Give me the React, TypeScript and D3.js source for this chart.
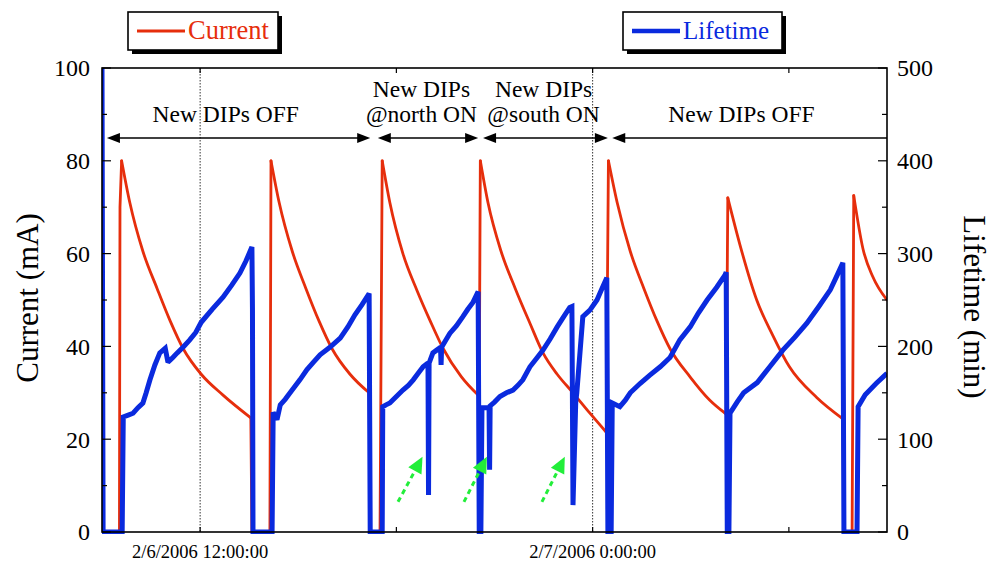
import React from 'react';
import * as d3 from 'd3';

// ---- time domain ----
const START = new Date(2006, 1, 6, 9, 0, 0);
const END = new Date(2006, 1, 7, 9, 0, 0);

// ---- Current (mA): minutes after 2/6/2006 09:00 ----
const currentMinutes = [
  0, 32, 33, 36, 51, 75, 101, 125, 149, 182, 222, 273, 275,
  308, 310, 325, 349, 374, 398, 422, 455, 490, 492,
  510, 514, 528, 552, 578, 602, 626, 659, 690, 692, 694,
  708, 732, 758, 785, 809, 835, 864, 895, 925, 929,
  945, 969, 994, 1018, 1042, 1079, 1115, 1143, 1145, 1148,
  1170, 1201, 1230, 1261, 1311, 1359, 1361,
  1376, 1379, 1396, 1414, 1440,
];
const currentValues = [
  0, 0, 70, 80, 71, 60.5, 52.5, 45.5, 39.5, 34, 29.5, 24.6, 0,
  0, 80, 71, 60.5, 52.5, 45.5, 39.5, 34, 30, 0,
  0, 80, 71, 60, 52, 45.5, 39.5, 33.5, 29.5, 30, 80,
  71, 60.5, 52.5, 45, 38.6, 34, 30, 25.6, 21.5, 80,
  71, 60.5, 52.5, 45.5, 39.5, 33.4, 28.4, 25.6, 25.5, 72,
  62, 50, 42.5, 35.6, 29, 24.4, 0,
  0, 72.5, 61, 55, 50,
];

// ---- Lifetime (min): minutes after 2/6/2006 09:00 ----
const lifetimeMinutes = [
  0, 2, 37, 39, 48, 57, 66, 75, 81, 88, 97, 106, 116, 121, 130, 138, 150, 161, 172, 182,
  202, 222, 238, 253, 264, 275, 276, 277,
  312, 314, 321, 327, 336, 345, 354, 363, 376, 388, 400, 418, 437, 451, 464, 477, 490, 492,
  514, 515, 521, 528, 540, 552, 562, 571, 580, 589, 598, 599, 600, 607, 614, 621, 622, 623, 630, 638,
  650, 662, 671, 680, 690, 692,
  695, 697, 710, 711, 712, 720, 730, 742, 754, 763, 772, 785, 797, 809, 822, 835, 847, 858, 862, 864,
  869, 871, 882, 895, 908, 917, 926, 928,
  934, 936, 950, 960, 969, 987, 1005, 1024, 1042, 1060, 1079, 1094, 1110, 1128, 1143, 1145, 1147,
  1150, 1152, 1165, 1177, 1202, 1225, 1249, 1271, 1293, 1315, 1336, 1348, 1359, 1361,
  1385, 1387, 1400, 1420, 1440,
];
const lifetimeValues = [
  500, 0, 0, 124, 126, 128, 134, 139, 150, 164, 180, 193, 198, 183, 188, 193, 200, 207, 215, 226,
  240, 253, 266, 279, 292, 307, 240, 0,
  0, 129, 121, 137, 143, 150, 157, 164, 175, 183, 191, 199, 209, 221, 234, 245, 257, 0,
  0, 135, 137, 139, 146, 153, 158, 164, 171, 178, 182, 40, 182, 193, 196, 199, 180, 199, 206, 214,
  222, 232, 240, 247, 259, 0,
  0, 134, 134, 67, 136, 140, 146, 150, 153, 158, 164, 178, 187, 196, 208, 221, 232, 242, 243, 29,
  140, 150, 232, 239, 250, 262, 274, 0,
  0, 139, 135, 142, 150, 160, 169, 178, 188, 207, 221, 236, 250, 264, 277, 280, 0,
  0, 128, 140, 150, 161, 178, 196, 210, 225, 243, 261, 276, 290, 0,
  0, 135, 148, 160, 171,
];

const leftTicks = [0, 20, 40, 60, 80, 100];
const rightTicks = [0, 100, 200, 300, 400, 500];
const xLabelTimes = [new Date(2006, 1, 6, 12, 0, 0), new Date(2006, 1, 7, 0, 0, 0)];
const xLabelTexts = ['2/6/2006 12:00:00', '2/7/2006 0:00:00'];

// annotation regions (minutes after start)
const regionStarts = [9, 506, 699, 936];
const regionEnds = [492, 690, 928, 1440];
const regionLeftHead = [true, true, true, true];
const regionRightHead = [true, true, true, false];
const regionLabelCenters = [227, 586, 810, 1173];
const regionLine1 = ['', 'New DIPs', 'New DIPs', ''];
const regionLine2 = ['New DIPs OFF', '@north ON', '@south ON', 'New DIPs OFF'];

// green dashed arrows (minutes, mA)
const greenFromMin = [543, 664, 807];
const greenFromVal = [6.5, 6.5, 6.5];
const greenToMin = [588, 706, 849];
const greenToVal = [16.2, 16.2, 16.2];

const RED = '#e62e0c';
const BLUE = '#0a2ade';
const GREEN = '#22ee3a';
const FONT = '"Liberation Serif", "Times New Roman", Times, serif';

const W = 991;
const H = 563;
const X0 = 102, X1 = 887, Y0 = 532, Y1 = 68;

const toDate = (m: number) => d3.timeMinute.offset(START, m);

type Pt = [Date, number];

export default function App() {
  const x = d3.scaleTime().domain([START, END]).range([X0, X1]);
  const yL = d3.scaleLinear().domain([0, 100]).range([Y0, Y1]);
  const yR = d3.scaleLinear().domain([0, 500]).range([Y0, Y1]);

  const curData = currentMinutes.map((m, i) => [toDate(m), currentValues[i]] as Pt);
  const lifeData = lifetimeMinutes.map((m, i) => [toDate(m), lifetimeValues[i]] as Pt);

  // split current into smooth decay runs and straight injection/dump steps
  const segs: { decay: boolean; pts: Pt[] }[] = [];
  let run: Pt[] = [curData[0]];
  let runDecay: boolean | null = null;
  for (let i = 1; i < curData.length; i++) {
    const decay = currentValues[i] < currentValues[i - 1] && currentMinutes[i] - currentMinutes[i - 1] >= 5;
    if (runDecay !== null && decay !== runDecay) {
      segs.push({ decay: runDecay, pts: run });
      run = [curData[i - 1]];
    }
    run.push(curData[i]);
    runDecay = decay;
  }
  segs.push({ decay: !!runDecay, pts: run });

  const curSmooth = d3.line<Pt>().x(d => x(d[0])).y(d => yL(d[1])).curve(d3.curveMonotoneX);
  const curStraight = d3.line<Pt>().x(d => x(d[0])).y(d => yL(d[1]));
  const lifeLine = d3.line<Pt>().x(d => x(d[0])).y(d => yR(d[1]));

  const minorL = d3.range(0, 101, 10);
  const minorR = d3.range(0, 501, 50);
  const hourTicks = d3.timeHour.every(6)!.range(START, END).filter(t => t > START);

  const arrowY = 138;
  const head = (tipX: number, dir: number) => {
    const L = 13, hw = 5;
    return `M${tipX},${arrowY} L${tipX - dir * L},${arrowY - hw} L${tipX - dir * L},${arrowY + hw} Z`;
  };

  return (
    <svg width={W} height={H} style={{ position: 'absolute', left: 0, top: 0, background: '#fff' }} fontFamily={FONT}>
      <defs>
        <clipPath id="plot">
          <rect x={X0} y={Y1 - 2} width={X1 - X0} height={Y0 - Y1 + 4} />
        </clipPath>
      </defs>
      <rect x={0} y={0} width={W} height={H} fill="#fff" />

      {/* dotted gridlines at labelled times */}
      {xLabelTimes.map((t, i) => (
        <line key={'g' + i} x1={x(t)} x2={x(t)} y1={Y1} y2={Y0} stroke="#333" strokeWidth={1} strokeDasharray="1.5,1.5" />
      ))}

      {/* data */}
      <g clipPath="url(#plot)">
        {segs.map((s, i) => (
          <path key={'cs' + i} d={(s.decay ? curSmooth : curStraight)(s.pts)!} fill="none" stroke={RED}
            strokeWidth={2.8} strokeLinejoin="round" strokeLinecap="round" />
        ))}
        <path d={lifeLine(lifeData)!} fill="none" stroke={BLUE} strokeWidth={5} strokeLinejoin="miter" strokeMiterlimit={2} />
      </g>

      {/* frame */}
      <rect x={X0} y={Y1} width={X1 - X0} height={Y0 - Y1} fill="none" stroke="#000" strokeWidth={1.6} />

      {/* left ticks */}
      {minorL.map(v => (
        <line key={'lt' + v} x1={X0} x2={X0 + (v % 20 === 0 ? 9 : 5)} y1={yL(v)} y2={yL(v)} stroke="#000" strokeWidth={1.2} />
      ))}
      {leftTicks.map(v => (
        <text key={'ll' + v} x={90} y={yL(v)} dy="0.35em" textAnchor="end" fontSize={24}>{v}</text>
      ))}
      {/* right ticks */}
      {minorR.map(v => (
        <line key={'rt' + v} x1={X1} x2={X1 - (v % 100 === 0 ? 9 : 5)} y1={yR(v)} y2={yR(v)} stroke="#000" strokeWidth={1.2} />
      ))}
      {rightTicks.map(v => (
        <text key={'rl' + v} x={897} y={yR(v)} dy="0.35em" textAnchor="start" fontSize={24}>{v}</text>
      ))}
      {/* x ticks */}
      {hourTicks.map((t, i) => (
        <g key={'xt' + i}>
          <line x1={x(t)} x2={x(t)} y1={Y0} y2={Y0 - 5} stroke="#000" strokeWidth={1.2} />
          <line x1={x(t)} x2={x(t)} y1={Y1} y2={Y1 + 5} stroke="#000" strokeWidth={1.2} />
        </g>
      ))}
      {xLabelTimes.map((t, i) => (
        <text key={'xl' + i} x={x(t)} y={558} textAnchor="middle" fontSize={18.5}>{xLabelTexts[i]}</text>
      ))}

      {/* axis titles */}
      <text transform={`translate(38,${298}) rotate(-90)`} textAnchor="middle" fontSize={31}>Current (mA)</text>
      <text transform={`translate(964,${307}) rotate(90)`} textAnchor="middle" fontSize={31}>Lifetime (min)</text>

      {/* region annotations */}
      {regionStarts.map((s, i) => {
        const xs = x(toDate(s));
        const xe = x(toDate(regionEnds[i]));
        const cx = x(toDate(regionLabelCenters[i]));
        return (
          <g key={'reg' + i}>
            <line x1={xs + (regionLeftHead[i] ? 8 : 0)} x2={xe - (regionRightHead[i] ? 8 : 0)} y1={arrowY} y2={arrowY} stroke="#000" strokeWidth={1.6} />
            {regionLeftHead[i] && <path d={head(xs, -1)} fill="#000" />}
            {regionRightHead[i] && <path d={head(xe, 1)} fill="#000" />}
            {regionLine1[i] && <text x={cx} y={97} textAnchor="middle" fontSize={23.5}>{regionLine1[i]}</text>}
            <text x={cx} y={122} textAnchor="middle" fontSize={23.5}>{regionLine2[i]}</text>
          </g>
        );
      })}

      {/* green arrows */}
      {greenFromMin.map((m, i) => {
        const x1 = x(toDate(m)), y1 = yL(greenFromVal[i]);
        const x2 = x(toDate(greenToMin[i])), y2 = yL(greenToVal[i]);
        const ang = Math.atan2(y2 - y1, x2 - x1);
        const L = 16, hw = 7.5;
        const bx = x2 - L * Math.cos(ang), by = y2 - L * Math.sin(ang);
        const px = -Math.sin(ang) * hw, py = Math.cos(ang) * hw;
        return (
          <g key={'ga' + i}>
            <line x1={x1} y1={y1} x2={bx} y2={by} stroke={GREEN} strokeWidth={3} strokeDasharray="5,4" />
            <path d={`M${x2},${y2} L${bx + px},${by + py} L${bx - px},${by - py} Z`} fill={GREEN} />
          </g>
        );
      })}

      {/* legends */}
      <g>
        <rect x={132} y={16} width={150} height={38} fill="#000" />
        <rect x={128} y={12} width={150} height={38} fill="#fff" stroke="#000" strokeWidth={1.6} />
        <line x1={137} x2={185} y1={31} y2={31} stroke={RED} strokeWidth={2.8} />
        <text x={188} y={39} fontSize={26.5} fill={RED}>Current</text>
      </g>
      <g>
        <rect x={627} y={16} width={159} height={38} fill="#000" />
        <rect x={623} y={12} width={159} height={38} fill="#fff" stroke="#000" strokeWidth={1.6} />
        <line x1={632} x2={680} y1={31} y2={31} stroke={BLUE} strokeWidth={4.5} />
        <text x={683} y={39} fontSize={25} fill={BLUE}>Lifetime</text>
      </g>
    </svg>
  );
}
